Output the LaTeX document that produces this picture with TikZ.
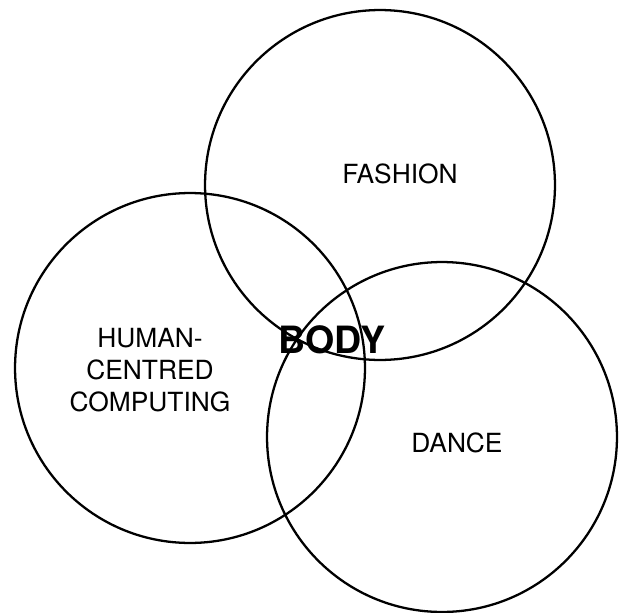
\documentclass[tikz,border=0pt]{standalone}
\usepackage{fontspec}
\setmainfont{TeX Gyre Heros}
\usepackage{tikz}
\usetikzlibrary{shapes,arrows,positioning}

\begin{document}
\begin{tikzpicture}[x=0.02cm,y=-0.02cm]
\useasboundingbox (0,0) rectangle (628,612);
\tikzset{
  area/.style={draw, circle, line width=1.3pt, minimum size=7cm, inner sep=0pt},
  areatext/.style={align=center, font=\fontsize{15}{18.2}\selectfont}
}
\node (fashion) [area] at (380,185) {};
\node (human) [area] at (190,368) {};
\node (dance) [area] at (442,437) {};

\node (fashiontxt) [areatext] at (400,174) {FASHION};
\node (humantxt) [areatext] at (150,370) {HUMAN-\\CENTRED\\COMPUTING};
\node (dancetxt) [areatext] at (457,443) {DANCE};
\node (body) [font=\fontsize{21.4}{24}\selectfont\bfseries] at (332,340) {BODY};
\end{tikzpicture}
\end{document}
